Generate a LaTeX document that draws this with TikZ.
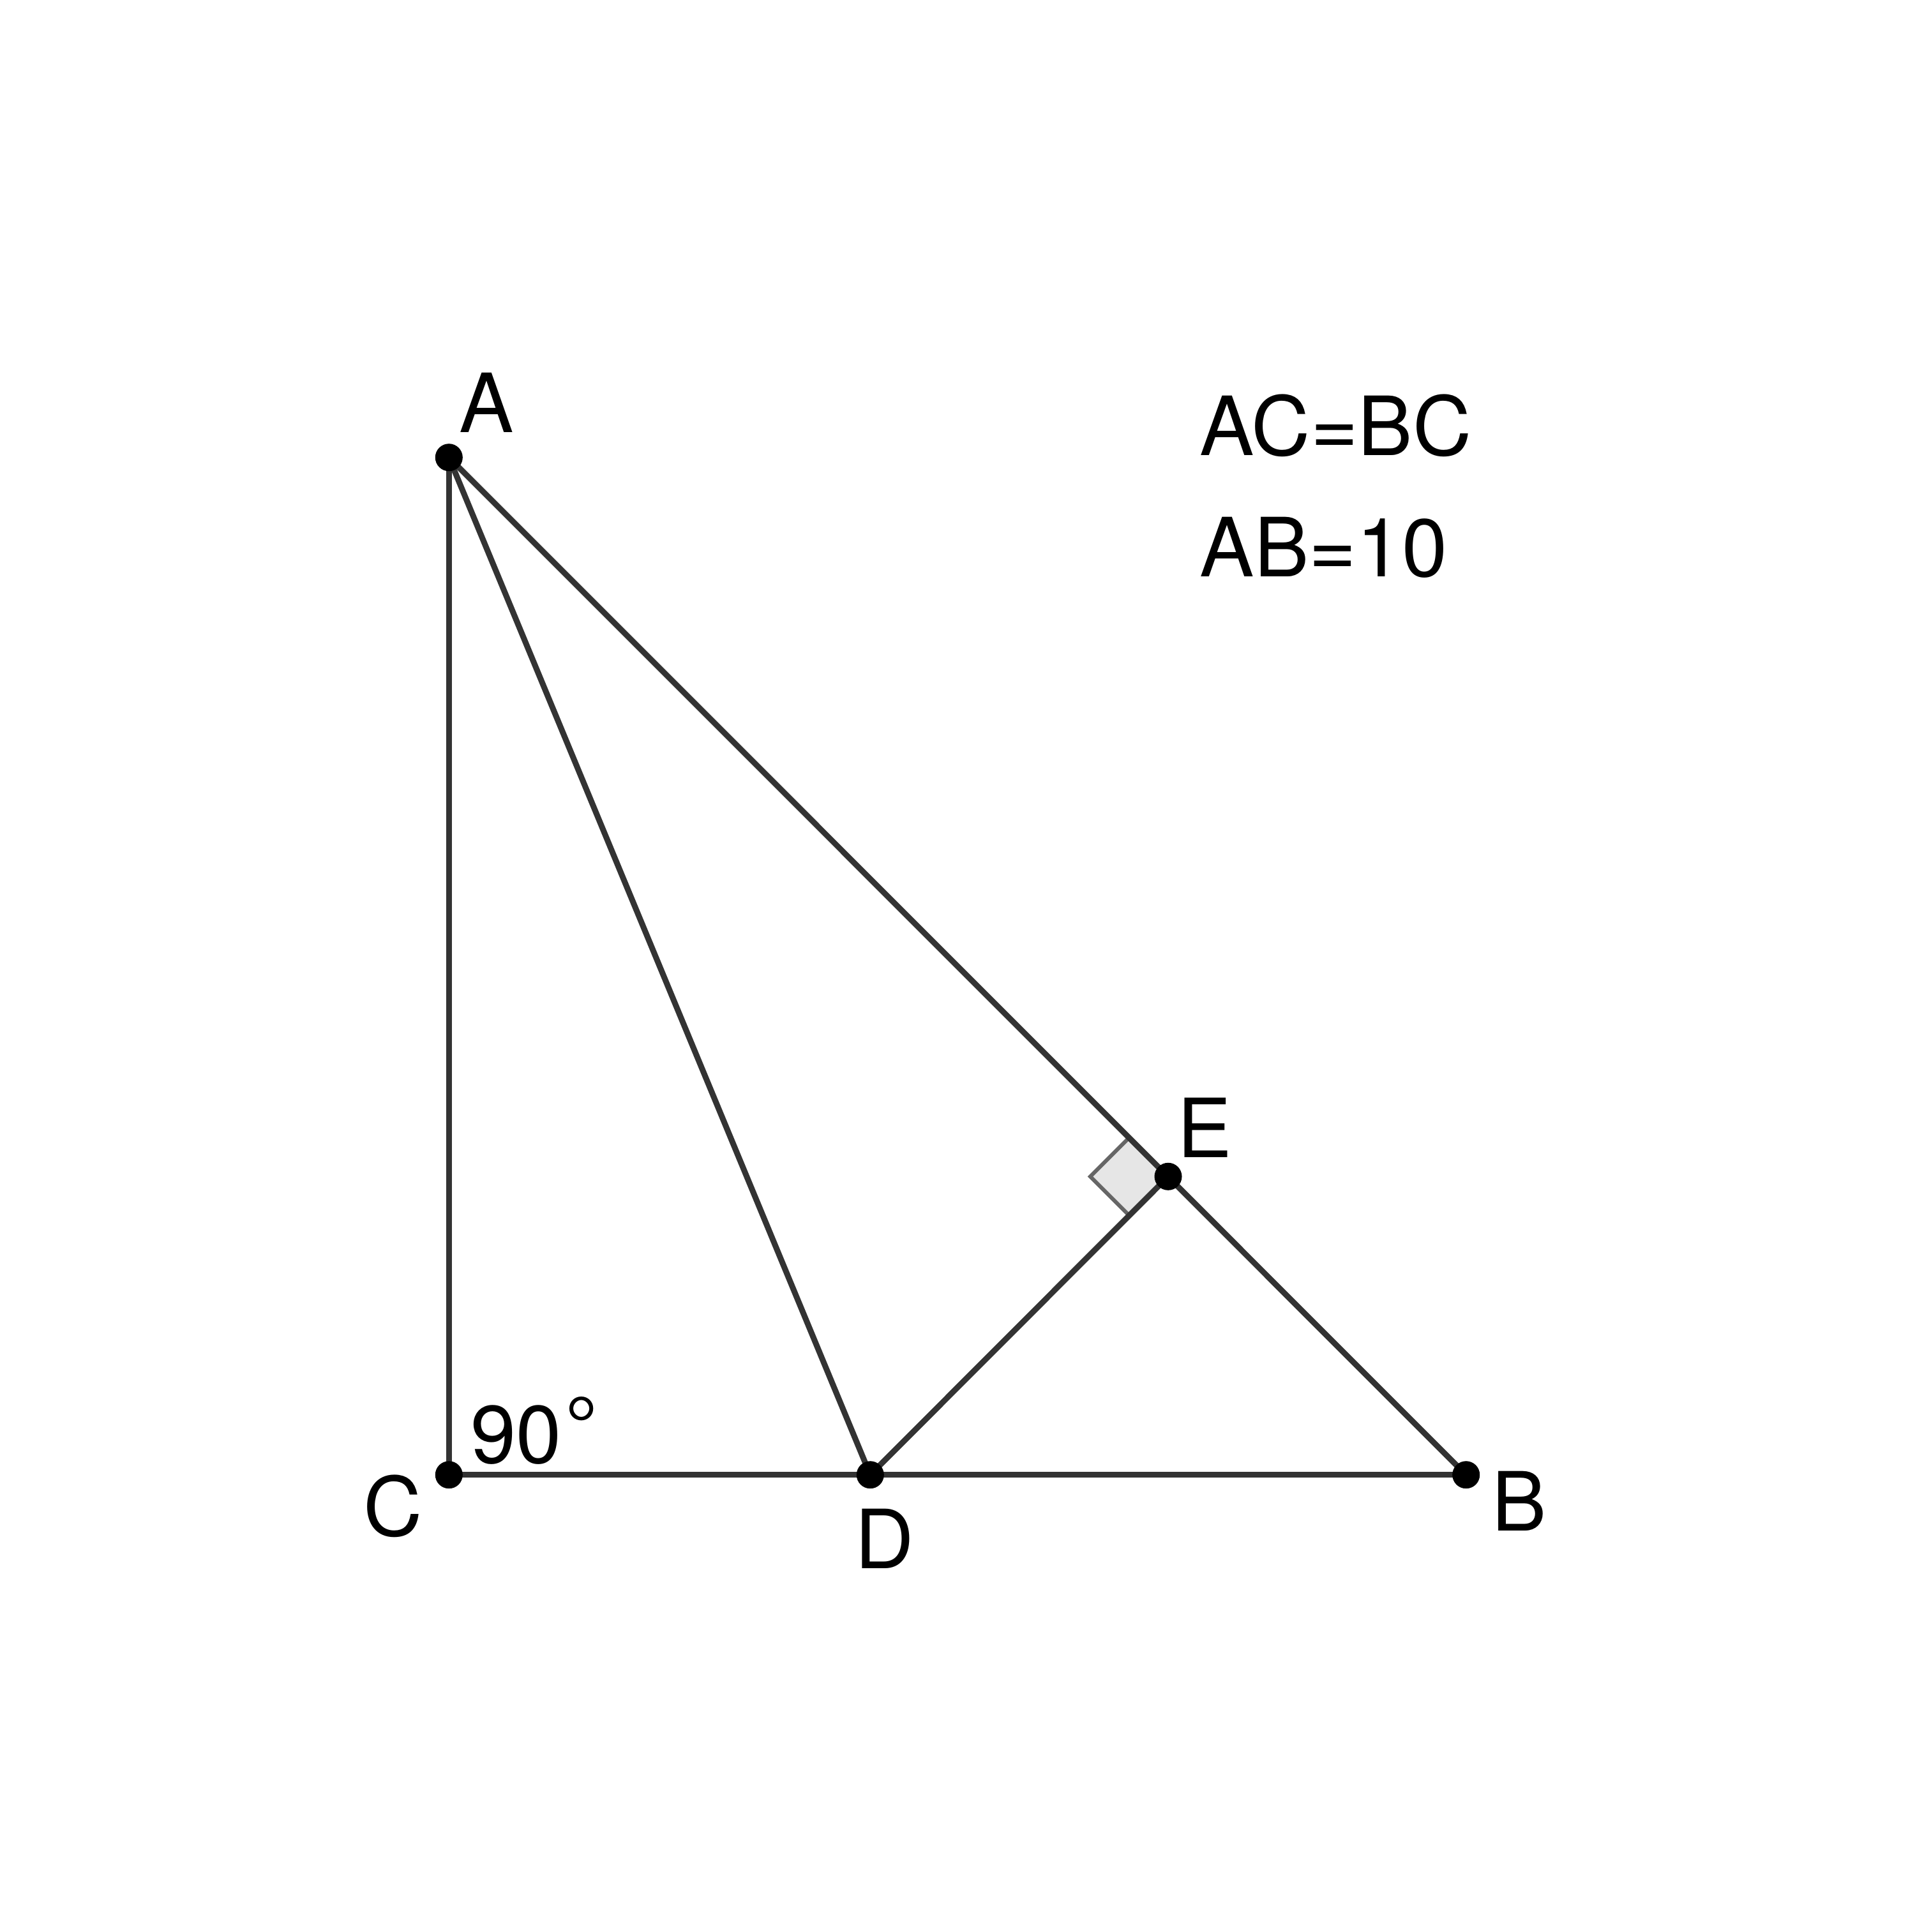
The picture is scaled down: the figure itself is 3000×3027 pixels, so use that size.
\documentclass[tikz,border=0pt]{standalone}
\usepackage{fontspec}
\setmainfont{TeX Gyre Heros}
\begin{document}
\begin{tikzpicture}[x=0.01cm,y=-0.01cm,
  seg/.style={draw=segcol,line width=0.09cm},
  dot/.style={circle,fill=black,inner sep=0pt,minimum size=0.43cm},
  lbl/.style={inner sep=0pt,font=\fontsize{36.4}{44}\selectfont},
  rmark/.style={fill=markfill,draw=markdraw,line width=0.06cm,line join=miter}]
\definecolor{segcol}{HTML}{333333}
\definecolor{markfill}{HTML}{E6E6E6}
\definecolor{markdraw}{HTML}{666666}
\useasboundingbox[fill=white] (0,0) rectangle (3000,3027);
\coordinate (A) at (703.3,716.7);
\coordinate (C) at (703.3,2310.7);
\coordinate (B) at (2296.7,2310.7);
\coordinate (D) at (1363.3,2310.7);
\coordinate (E) at (1830,1843.3);
% right-angle mark
\draw[rmark] (E) -- ++(-61,-61) -- ++(-61,61) -- ++(61,61) -- cycle;
% segments
\draw[seg] (A) -- (C);
\draw[seg] (C) -- (B);
\draw[seg] (A) -- (B);
\draw[seg] (A) -- (D);
\draw[seg] (D) -- (E);
% points
\node[dot] (pA) at (A) {};
\node[dot] (pB) at (B) {};
\node[dot] (pC) at (C) {};
\node[dot] (pD) at (D) {};
\node[dot] (pE) at (E) {};
% labels
\node[lbl] (lA) at (762,631) {A};
\node[lbl] (lB) at (2380,2352) {B};
\node[lbl] (lC) at (616,2360) {C};
\node[lbl] (lD) at (1386,2411) {D};
\node[lbl] (lE) at (1887,1767) {E};
\node[lbl,anchor=base west] (ang) at (737,2292) {90\kern0.04em\raisebox{0.14cm}{°}};
\node[lbl,anchor=base west] (t1) at (1879,713) {AC=BC};
\node[lbl,anchor=base west] (t2) at (1879,903) {AB=10};
\end{tikzpicture}
\end{document}
